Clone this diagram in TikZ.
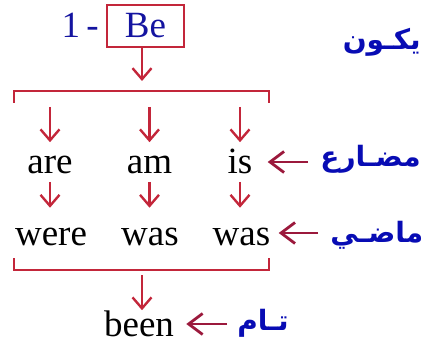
\documentclass[tikz,border=0pt]{standalone}
\usepackage{fontspec}
\setmainfont{Liberation Serif}
\newfontfamily\timesfont{Liberation Serif}
\newfontfamily\arabicfont[Script=Arabic]{DejaVu Sans}
\TeXXeTstate=1
\usetikzlibrary{arrows.meta}
\definecolor{arrowred}{RGB}{195,38,58}
\definecolor{backred}{RGB}{155,25,60}
\definecolor{verbblue}{RGB}{20,20,160}
\definecolor{arabblue}{RGB}{8,12,180}
\tikzset{
  word/.style={anchor=base, inner sep=0pt, text height=15.7pt, text depth=3.7pt},
  down/.style={draw=arrowred, line width=1.2pt, -{Straight Barb[length=5.5pt,width=9.5pt]}},
  back/.style={draw=backred, line width=1.4pt, -{Straight Barb[length=7pt,width=10.5pt]}},
  arab/.style={anchor=base west, inner sep=0pt, text=arabblue,
    font=\arabicfont\bfseries\fontsize{14}{17}\selectfont},
  bracket/.style={draw=arrowred, line width=1.2pt}
}
\begin{document}
\begin{tikzpicture}[x=0.5pt, y=-0.5pt, every node/.style={font=\timesfont\fontsize{18.5}{22}\selectfont}]
    \useasboundingbox (0,0) rectangle (422,347);
    % the verb in its box
    \node[draw=arrowred, line width=1pt, text=verbblue, inner sep=0pt,
          minimum width=38.5pt, minimum height=21pt] (be) at (145.5,26) {Be};
    \node[anchor=base east, inner sep=0pt, text=verbblue] (num) at (99,38) {1\,-};
    \node[arab, anchor=base east] (kana) at (421,50) {\beginR يكـون\endR};
    % brackets
    \coordinate (upper) at (142,91);
    \coordinate (lower) at (142,270);
    \draw[bracket] (14,103) -- (14,91) -- (269,91) -- (269,103);
    \draw[bracket] (14,258) -- (14,270) -- (269,270) -- (269,258);
    % present forms
    \node[word] (are) at (50,174) {are};
    \node[word] (am) at (149.5,174) {am};
    \node[word] (is) at (240,174) {is};
    % past forms
    \node[word] (were) at (51,245) {were};
    \node[word] (was) at (150,245) {was};
    \node[word] (wasb) at (241.5,245) {was};
    % participle
    \node[word] (been) at (139,336) {been};
    % arabic labels
    \node[arab] (mudari) at (320,167) {\beginR مضـارع\endR};
    \node[arab] (madi) at (330,242) {\beginR ماضـي\endR};
    \node[arab] (tamm) at (237,330) {\beginR تـام\endR};
    % down arrows
    \draw[down, shorten >=5pt] (be.south -| upper) -- (upper);
    \draw[down, shorten <=8pt] (are |- upper) -- (are.north);
    \draw[down, shorten <=8pt] (am |- upper) -- (am.north);
    \draw[down, shorten <=8pt] (is |- upper) -- (is.north);
    \draw[down, shorten >=2.75pt] (are.south) -- (are.south |- were.north);
    \draw[down, shorten >=2.75pt] (am.south) -- (am.south |- was.north);
    \draw[down, shorten >=2.75pt] (is.south) -- (is.south |- wasb.north);
    \draw[down, shorten <=2.5pt, shorten >=-3pt] (lower) -- (lower |- been.north);
    % arrows back from the labels
    \draw[back, shorten <=6pt, shorten >=7.5pt] (mudari.west |- is.east) -- (is.east);
    \draw[back, shorten <=6pt, shorten >=4pt] (madi.west |- wasb.east) -- (wasb.east);
    \draw[back, shorten <=5pt, shorten >=6pt] (tamm.west |- been.east) -- (been.east);
\end{tikzpicture}
\end{document}
